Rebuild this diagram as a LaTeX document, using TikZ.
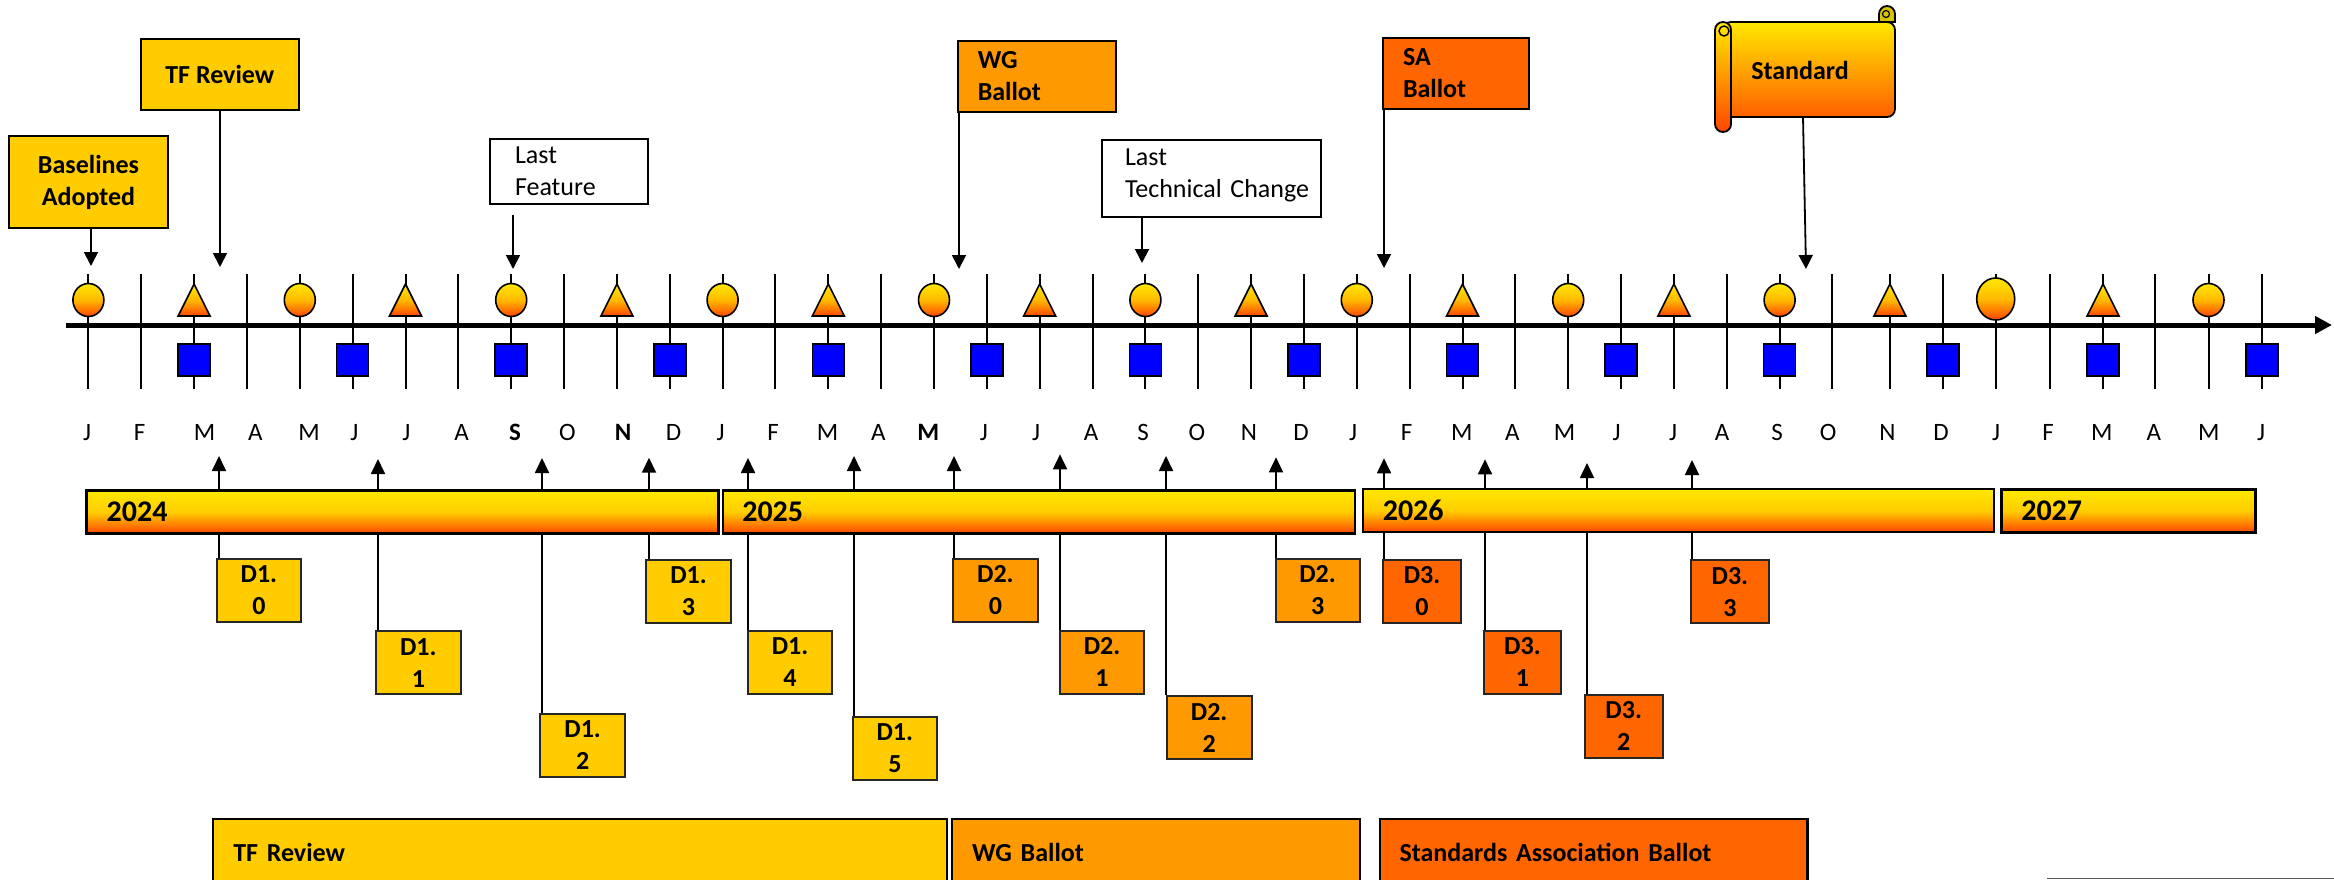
\documentclass[tikz,border=0pt]{standalone}
\usepackage{fontspec}
\setmainfont{Carlito}
\usetikzlibrary{arrows.meta,calc}
\definecolor{gold}{RGB}{255,204,0}
\definecolor{wgor}{RGB}{255,153,0}
\definecolor{saor}{RGB}{255,102,0}
\definecolor{gtop}{RGB}{255,232,0}
\definecolor{gmid}{RGB}{255,205,0}
\definecolor{gbot}{RGB}{255,70,0}
\definecolor{cmid}{RGB}{255,185,0}
\definecolor{mblue}{RGB}{0,0,255}
\definecolor{curlc}{RGB}{215,195,0}
\begin{document}
\begin{tikzpicture}[x=1pt,y=-1pt,
  conn/.style={line width=1.8pt},
  arr/.style={conn,-{Triangle[width=14pt,length=14pt]}},
  uparr/.style={conn,-{Triangle[width=14pt,length=15pt]}},
  cbox/.style={draw=black, line width=2pt, inner ysep=0pt, font=\fontsize{26}{32}\selectfont},
  bcbox/.style={cbox, font=\bfseries\fontsize{26}{32}\selectfont},
  dbox/.style={draw=black!85, line width=2pt, inner sep=0pt, minimum height=63pt, align=center, font=\bfseries\fontsize{26}{32}\selectfont},
  ybar/.style={draw=black, line width=2.5pt, top color=gtop, bottom color=gbot, middle color=gmid, inner xsep=20pt, inner ysep=0pt, minimum height=43pt, align=left, font=\bfseries\fontsize{30}{36}\selectfont},
  pbar/.style={draw=black, line width=2.5pt, inner ysep=0pt, minimum height=66pt, align=left, font=\bfseries\fontsize{26}{32}\selectfont},
  mtick/.style={line width=2pt},
  mks/.style={draw=black, line width=1.6pt, top color=gtop, bottom color=gbot, middle color=cmid},
  sq/.style={draw=black, line width=1.6pt, fill=mblue},
  mlab/.style={font=\fontsize{25}{30}\selectfont, anchor=base, inner sep=0pt}
]
\useasboundingbox (0,0) rectangle (2334,879);
\fill[white] (0,0) rectangle (2334,879);

% ---- month ticks ----
\foreach \i in {0,...,33} {
  \pgfmathsetmacro\x{88.4+52.85*\i}
  \draw[mtick] (\x,274) -- (\x,389);
}
\foreach \x in {1889.9,1943,1995.7,2050,2103,2155,2208.5,2261.7}
  \draw[mtick] (\x,274) -- (\x,389);

% ---- axis ----
\coordinate (axs) at (66,325);
\coordinate (axe) at (2332,325);
\draw[line width=5pt,-{Triangle[width=17pt,length=17pt]}] (axs) -- (axe);

% ---- markers ----
\foreach \x in {88.4,299.8,511.2,722.6,934.0,1145.4,1356.8,1568.2,1779.6,2208.5}
  \path[mks] (\x,300) ellipse[x radius=15.5pt, y radius=16.5pt];
\path[mks] (1995.7,299) ellipse[x radius=19pt, y radius=21pt];
\foreach \x in {194.1,405.5,616.9,828.3,1039.7,1251.1,1462.5,1673.9,1889.9,2103}
  \path[mks] (\x-16,316) -- (\x,284) -- (\x+16,316) -- cycle;
\foreach \x in {194.1,352.65,511.2,669.75,828.3,986.85,1145.4,1303.95,1462.5,1621.05,1779.6,1943,2103,2261.7}
  \path[sq] (\x-16,344) rectangle (\x+16,376);

% ---- month labels ----
\foreach \x/\l [count=\i] in {87/J,139.5/F,204.5/M,255.4/A,309/M,354.3/J,406.4/J,461.7/A,515/{\bfseries S},567.5/O,623/{\bfseries N},673.5/D,720.5/J,773/F,827.5/M,878.3/A,928.3/{\bfseries M},983.9/J,1036/J,1091.1/A,1143.2/S,1196.8/O,1248.9/N,1301/D,1353.1/J,1406.6/F,1461.7/M,1512.4/A,1564.5/M,1616.6/J,1673.1/J,1722.2/A,1777.2/S,1828.1/O,1887.4/N,1941/D,1996.1/J,2048.2/F,2101.8/M,2153.8/A,2208.9/M,2261/J}
  \node[mlab] (m\i) at (\x,440) {\l};

% ---- top callouts ----
\node[bcbox, fill=gold, minimum width=159pt, minimum height=92pt, align=center] (bl) at (88.5,182) {Baselines\\Adopted};
\node[bcbox, fill=gold, minimum width=158.4pt, minimum height=71pt, align=center] (tf) at (219.8,74.5) {TF Review};
\node[cbox, fill=white, text width=108pt, inner xsep=25pt, minimum height=65pt, align=left] (lf) at (569,171.5) {Last\\Feature};
\node[bcbox, fill=wgor, text width=118pt, inner xsep=20pt, minimum height=71pt, align=left] (wg) at (1036.75,76.2) {WG\\Ballot};
\node[cbox, fill=white, text width=172.5pt, inner xsep=23.5pt, minimum height=77.3pt, align=left] (ltc) at (1211.25,178.35) {Last\\Technical~Change\rule[-11pt]{0pt}{0pt}};
\node[bcbox, fill=saor, text width=106pt, inner xsep=20pt, minimum height=71pt, align=left] (sa) at (1456,73.2) {SA\\Ballot};

% scroll "Standard"
\path[draw=black, line width=1.8pt, top color=gtop, bottom color={rgb,255:red,255;green,95;blue,0}, rounded corners=8pt]
  (1723,22) -- (1895,22) -- (1895,117) -- (1723,117) -- cycle;
\path[draw=black, line width=1.8pt, top color=gtop, bottom color=gbot, rounded corners=7.9pt]
  (1715,22) rectangle (1731,132);
\draw[line width=1.4pt] (1724,31) circle[radius=5pt];
\path[draw=black, line width=1.8pt, fill=curlc]
  (1879,22) -- (1879,14) arc[start angle=180, end angle=0, radius=8pt] -- (1895,22) -- cycle;
\draw[line width=1.2pt] (1886,14) circle[radius=3.5pt];
\node[font=\bfseries\fontsize{26}{32}\selectfont, inner sep=0pt] (std) at (1800,70) {Standard};

% callout arrows
\coordinate (blt) at (91,266);
\coordinate (tft) at (220,267);
\coordinate (lft) at (513,269);
\coordinate (wgt) at (959,269);
\coordinate (ltct) at (1142,263);
\coordinate (sat) at (1384,268);
\coordinate (stdb) at (1803,117);
\coordinate (stdt) at (1806,269);
\draw[arr] (bl.south -| blt) -- (blt);
\draw[arr] (tf.south -| tft) -- (tft);
\draw[arr] ($(lf.south -| lft)+(0,10)$) -- (lft);
\draw[arr] (wg.south west -| wgt) -- (wgt);
\draw[arr] (ltc.south -| ltct) -- (ltct);
\draw[arr] (sa.south west -| sat) -- (sat);
\draw[arr] (stdb) -- (stdt);

% ---- draft boxes and their connectors ----
\foreach \n/\cx/\cy/\w/\a/\b/\col/\tx/\ty in {
  d10/258.9/590.2/84.2/1/0/gold/219/456,
  d11/418.35/662.65/84.7/1/1/gold/378/459,
  d12/582.65/745.35/84.7/1/2/gold/542/458,
  d13/688.5/591.35/84.2/1/3/gold/649/457.7,
  d14/790/662.5/84/1/4/gold/748/458,
  d15/894.85/748/83.7/1/5/gold/854/456,
  d20/995.4/590.15/84.8/2/0/wgor/954/456,
  d21/1102.05/662.15/84.7/2/1/wgor/1060/454.3,
  d22/1209.15/727.5/84.7/2/2/wgor/1166/456,
  d23/1317.6/590.15/84.2/2/3/wgor/1276/457.3,
  d30/1422/591.3/78/3/0/saor/1384/458.3,
  d31/1522.45/662.15/77.5/3/1/saor/1485/459.3,
  d32/1623.7/726/78/3/2/saor/1587/463,
  d33/1729.9/591.85/78.2/3/3/saor/1692/460} {
  \node[dbox, fill=\col, minimum width=\w pt] (\n) at (\cx,\cy) {D\a.\\\b};
  \coordinate (tip\n) at (\tx,\ty);
  \draw[uparr] (\n.north west -| tip\n) -- (tip\n);
}

% ---- year bars ----
\node[ybar, text width=591.7pt] (y24) at (402.55,512.1) {2024};
\node[ybar, text width=593.4pt, inner xsep=19.3pt] (y25) at (1039,511.85) {2025};
\node[ybar, text width=591.2pt] (y26) at (1678.4,510.5) {2026};
\node[ybar, text width=214.5pt, inner xsep=19.6pt] (y27) at (2128.55,511) {2027};

% ---- phase bars ----
\node[pbar, fill=gold, text width=693.4pt, inner xsep=20.3pt] (ptf) at (580,852) {TF Review};
\node[pbar, fill=wgor, text width=367.6pt, inner xsep=20.2pt] (pwg) at (1156,852) {WG Ballot};
\node[pbar, fill=saor, text width=388.4pt, inner xsep=19.5pt] (psa) at (1593.7,852) {Standards Association Ballot};

% bottom right grey rule
\draw[black!65, line width=1.3pt] (2047,878.2) -- (2334,878.2);
\end{tikzpicture}
\end{document}
